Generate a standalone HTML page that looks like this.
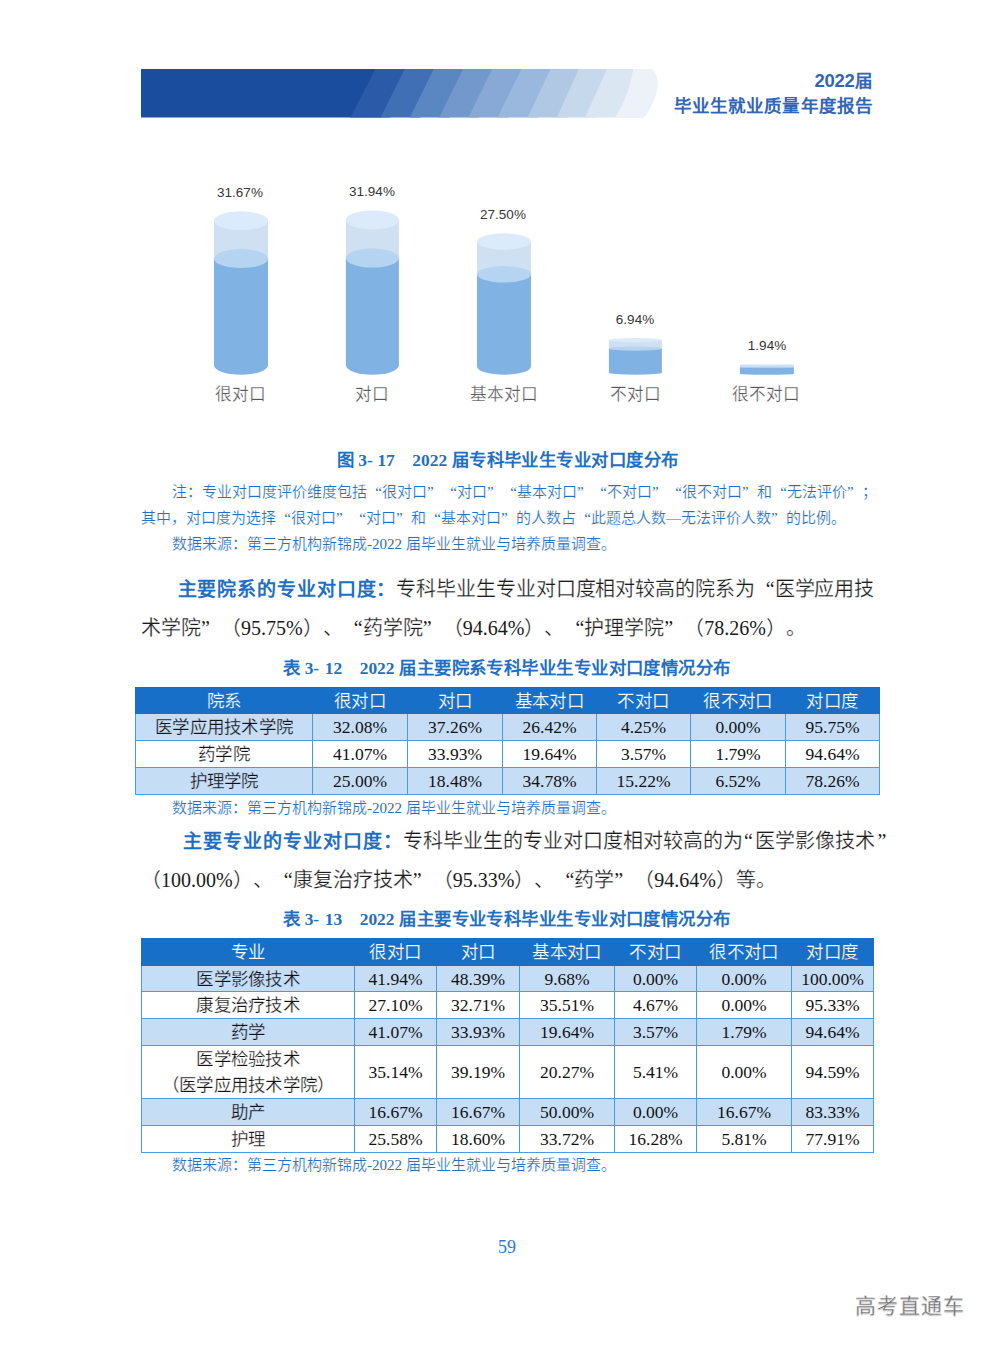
<!DOCTYPE html>
<html lang="zh-CN">
<head>
<meta charset="utf-8">
<title>2022届毕业生就业质量年度报告</title>
<style>
html,body{margin:0;padding:0;background:#fff;}
body{text-spacing-trim:space-all;font-kerning:none;width:992px;height:1346px;position:relative;overflow:hidden;font-family:"Liberation Serif",serif;color:#1a1a1a;}
.abs{position:absolute;white-space:nowrap;}
.sans{font-family:"Liberation Sans",sans-serif;}
i.ql,i.qr{font-style:normal;display:inline-block;width:1em;}
i.ql{text-align:right;}
i.qr{text-align:left;}
i.qh{font-style:normal;display:inline-block;width:.6em;text-align:center;}
.hdr{right:119px;text-align:right;color:#3265b7;font-weight:bold;font-size:17.5px;line-height:22px;}
.val{font-family:"Liberation Sans",sans-serif;font-size:13.5px;color:#363636;width:80px;text-align:center;line-height:16px;}
.cat{font-size:16.67px;color:#595959;width:100px;text-align:center;line-height:20px;font-weight:300;}
.cap{text-align:left;color:#1f70c4;font-weight:bold;font-size:17.4px;line-height:20px;}
.cap.cj{letter-spacing:.45px;}
.note{color:#1f70c4;font-size:15px;line-height:18px;font-weight:300;}
.para{font-size:20px;line-height:24px;color:#1a1a1a;font-weight:300;}
.para b{color:#1f70c4;font-weight:bold;font-size:19px;letter-spacing:.9px;}
table{position:absolute;border-collapse:collapse;table-layout:fixed;font-size:17.5px;}
td,th{border:1px solid #4a9ae6;text-align:center;padding:0;line-height:20px;font-weight:300;color:#111;overflow:hidden;white-space:nowrap;}
th{background:#186fc7;color:#fff;border-color:#186fc7;font-weight:normal;}
tr.alt td{background:#c6ddf6;}

.para,.note,.cat{-webkit-text-stroke:.25px #fff;}
.para b,.para u,.note u,.para i,.note i{-webkit-text-stroke:0;}
.note{-webkit-text-stroke:.18px #fff;}
u{text-decoration:none;}
td:first-child{-webkit-text-stroke:.25px #fff;letter-spacing:.25px;}
tr.alt td:first-child{-webkit-text-stroke:.25px #c6ddf6;}
th{-webkit-text-stroke:.2px #186fc7;letter-spacing:.35px;}
</style>
</head>
<body>

<!-- header banner -->
<svg class="abs" style="left:141px;top:69px" width="520" height="49" viewBox="0 0 520 49">
  <defs><clipPath id="bc"><path d="M0 0H510C515 3 517 10 516.5 16C516 25 511 38 503 48.4H0Z"/></clipPath></defs>
  <g clip-path="url(#bc)">
    <rect x="0" y="0" width="240" height="49" fill="#1b4d9f"/>
    <polygon points="234.4,0 274.4,0 249.2,49 209.2,49" fill="#2a5aa8"/>
    <polygon points="263.6,0 303.6,0 279.4,49 239.4,49" fill="#416fb5"/>
    <polygon points="292.8,0 332.8,0 308.6,49 268.6,49" fill="#5a86c2"/>
    <polygon points="322.1,0 362.1,0 337.9,49 297.9,49" fill="#7298cc"/>
    <polygon points="351.3,0 391.3,0 367.1,49 327.1,49" fill="#88a9d5"/>
    <polygon points="380.5,0 420.5,0 396.3,49 356.3,49" fill="#9ab8de"/>
    <polygon points="409.6,0 449.6,0 426.4,49 386.4,49" fill="#b0c8e4"/>
    <polygon points="437.8,0 477.8,0 455.6,49 415.6,49" fill="#c6d8ec"/>
    <polygon points="466.0,0 530,0 530,49 443.8,49" fill="#dbe6f3"/>
    <path d="M492.2 0H530V49H473.5C481 40 489 20 492.2 0Z" fill="#edf2f9"/>
  </g>
</svg>
<div class="abs sans hdr" style="top:69.5px;right:120.5px"><span style="font-size:18.5px;letter-spacing:-0.3px">2022</span>届</div>
<div class="abs sans hdr" style="top:94.5px;letter-spacing:1.15px;right:118.8px">毕业生就业质量年度报告</div>

<!-- chart -->
<svg class="abs" style="left:200px;top:200px" width="620" height="185" viewBox="200 200 620 185">
<rect x="214.0" y="220.7" width="54.0" height="37.9" fill="#cfe0f2"/>
<path d="M214.0 258.6V365.2A27.0 9.48 0 0 0 268.0 365.2V258.6Z" fill="#80b2e3"/>
<ellipse cx="241.0" cy="258.6" rx="27.0" ry="9.48" fill="#b4d4f1"/>
<ellipse cx="241.0" cy="220.7" rx="27.0" ry="9.48" fill="#dcebfb"/>
<rect x="345.9" y="220.0" width="53.0" height="38.1" fill="#cfe0f2"/>
<path d="M345.9 258.1V365.2A26.5 9.52 0 0 0 398.9 365.2V258.1Z" fill="#80b2e3"/>
<ellipse cx="372.4" cy="258.1" rx="26.5" ry="9.52" fill="#b4d4f1"/>
<ellipse cx="372.4" cy="220.0" rx="26.5" ry="9.52" fill="#dcebfb"/>
<rect x="477.0" y="241.5" width="54.0" height="32.8" fill="#cfe0f2"/>
<path d="M477.0 274.3V366.5A27.0 8.20 0 0 0 531.0 366.5V274.3Z" fill="#80b2e3"/>
<ellipse cx="504.0" cy="274.3" rx="27.0" ry="8.20" fill="#b4d4f1"/>
<ellipse cx="504.0" cy="241.5" rx="27.0" ry="8.20" fill="#dcebfb"/>
<rect x="608.9" y="340.1" width="53.0" height="8.5" fill="#cfe0f2"/>
<path d="M608.9 348.6V372.6A26.5 2.13 0 0 0 661.9 372.6V348.6Z" fill="#80b2e3"/>
<ellipse cx="635.4" cy="348.6" rx="26.5" ry="2.13" fill="#b4d4f1"/>
<ellipse cx="635.4" cy="340.1" rx="26.5" ry="2.13" fill="#dcebfb"/>
<rect x="739.9" y="364.8" width="54.0" height="2.4" fill="#cfe0f2"/>
<path d="M739.9 367.2V374.1A27.0 0.61 0 0 0 793.9 374.1V367.2Z" fill="#80b2e3"/>
<ellipse cx="766.9" cy="367.2" rx="27.0" ry="0.61" fill="#b4d4f1"/>
<ellipse cx="766.9" cy="364.8" rx="27.0" ry="0.61" fill="#dcebfb"/>
</svg>

<div class="abs val" style="left:200px;top:185px">31.67%</div>
<div class="abs val" style="left:332px;top:184px">31.94%</div>
<div class="abs val" style="left:463px;top:207px">27.50%</div>
<div class="abs val" style="left:595px;top:312px">6.94%</div>
<div class="abs val" style="left:727px;top:338px">1.94%</div>

<div class="abs cat" style="left:190px;top:385px">很对口</div>
<div class="abs cat" style="left:322px;top:385px">对口</div>
<div class="abs cat" style="left:453.5px;top:385px">基本对口</div>
<div class="abs cat" style="left:585px;top:385px">不对口</div>
<div class="abs cat" style="left:716px;top:385px">很不对口</div>

<div class="abs cap" style="left:337px;top:450px">图 3- </div><div class="abs cap" style="left:377.4px;top:450px">17</div><div class="abs cap" style="left:412.3px;top:450px">2022</div><div class="abs cap cj" style="left:451.7px;top:450px">届专科毕业生专业对口度分布</div>

<div class="abs note" style="left:172px;top:483px">注：专业对口度评价维度包括<i class="ql">“</i>很对口<i class="qr">”</i><i class="ql">“</i>对口<i class="qr">”</i><i class="ql">“</i>基本对口<i class="qr">”</i><i class="ql">“</i>不对口<i class="qr">”</i><i class="ql">“</i>很不对口<i class="qr">”</i>和<i class="ql">“</i>无法评价<i class="qr">”</i>；</div>
<div class="abs note" style="left:141px;top:509px">其中，对口度为选择<i class="ql">“</i>很对口<i class="qr">”</i><i class="ql">“</i>对口<i class="qr">”</i>和<i class="ql">“</i>基本对口<i class="qr">”</i>的人数占<i class="ql">“</i>此题总人数<u>—</u>无法评价人数<i class="qr">”</i>的比例。</div>
<div class="abs note" style="left:172px;top:535px">数据来源：第三方机构新锦成<u>-2022</u> 届毕业生就业与培养质量调查。</div>

<div class="abs para" style="left:177.5px;top:577px;letter-spacing:-0.1px"><b>主要院系的专业对口度：</b>专科毕业生专业对口度相对较高的院系为<i class="ql">“</i>医学应用技</div>
<div class="abs para" style="left:141px;top:616px">术学院<i class="qr">”</i>（<u>95.75%</u>）、<i class="ql">“</i>药学院<i class="qr">”</i>（<u>94.64%</u>）、<i class="ql">“</i>护理学院<i class="qr">”</i>（<u>78.26%</u>）。</div>

<div class="abs cap" style="left:283.3px;top:658px">表 3- </div><div class="abs cap" style="left:324.8px;top:658px">12</div><div class="abs cap" style="left:359.7px;top:658px">2022</div><div class="abs cap cj" style="left:399.2px;top:658px">届主要院系专科毕业生专业对口度情况分布</div>

<table style="left:135px;top:687px;width:744px">
<colgroup><col style="width:177px"><col style="width:95px"><col style="width:95px"><col style="width:94px"><col style="width:94px"><col style="width:95px"><col style="width:94px"></colgroup>
<tr style="height:26px"><th>院系</th><th>很对口</th><th>对口</th><th>基本对口</th><th>不对口</th><th>很不对口</th><th>对口度</th></tr>
<tr class="alt" style="height:27px"><td>医学应用技术学院</td><td>32.08%</td><td>37.26%</td><td>26.42%</td><td>4.25%</td><td>0.00%</td><td>95.75%</td></tr>
<tr style="height:27px"><td>药学院</td><td>41.07%</td><td>33.93%</td><td>19.64%</td><td>3.57%</td><td>1.79%</td><td>94.64%</td></tr>
<tr class="alt" style="height:27px"><td>护理学院</td><td>25.00%</td><td>18.48%</td><td>34.78%</td><td>15.22%</td><td>6.52%</td><td>78.26%</td></tr>
</table>

<div class="abs note" style="left:172px;top:799px">数据来源：第三方机构新锦成<u>-2022</u> 届毕业生就业与培养质量调查。</div>

<div class="abs para" style="left:182.5px;top:829px"><b style="letter-spacing:1px">主要专业的专业对口度：</b>专科毕业生的专业对口度相对较高的为<i class="qh">“</i>医学影像技术<i class="qr" style="margin-left:3px">”</i></div>
<div class="abs para" style="left:141px;top:868px">（<u>100.00%</u>）、<i class="ql">“</i>康复治疗技术<i class="qr">”</i>（<u>95.33%</u>）、<i class="ql">“</i>药学<i class="qr">”</i>（<u>94.64%</u>）等。</div>

<div class="abs cap" style="left:283.3px;top:909px">表 3- </div><div class="abs cap" style="left:324.8px;top:909px">13</div><div class="abs cap" style="left:359.7px;top:909px">2022</div><div class="abs cap cj" style="left:399.2px;top:909px">届主要专业专科毕业生专业对口度情况分布</div>

<table style="left:141px;top:938px;width:732px">
<colgroup><col style="width:213px"><col style="width:82px"><col style="width:83px"><col style="width:95px"><col style="width:82px"><col style="width:95px"><col style="width:82px"></colgroup>
<tr style="height:27px"><th>专业</th><th>很对口</th><th>对口</th><th>基本对口</th><th>不对口</th><th>很不对口</th><th>对口度</th></tr>
<tr class="alt" style="height:26px"><td>医学影像技术</td><td>41.94%</td><td>48.39%</td><td>9.68%</td><td>0.00%</td><td>0.00%</td><td>100.00%</td></tr>
<tr style="height:27px"><td>康复治疗技术</td><td>27.10%</td><td>32.71%</td><td>35.51%</td><td>4.67%</td><td>0.00%</td><td>95.33%</td></tr>
<tr class="alt" style="height:27px"><td>药学</td><td>41.07%</td><td>33.93%</td><td>19.64%</td><td>3.57%</td><td>1.79%</td><td>94.64%</td></tr>
<tr style="height:53px"><td style="line-height:26px">医学检验技术<br>（医学应用技术学院）</td><td>35.14%</td><td>39.19%</td><td>20.27%</td><td>5.41%</td><td>0.00%</td><td>94.59%</td></tr>
<tr class="alt" style="height:27px"><td>助产</td><td>16.67%</td><td>16.67%</td><td>50.00%</td><td>0.00%</td><td>16.67%</td><td>83.33%</td></tr>
<tr style="height:27px"><td>护理</td><td>25.58%</td><td>18.60%</td><td>33.72%</td><td>16.28%</td><td>5.81%</td><td>77.91%</td></tr>
</table>

<div class="abs note" style="left:172px;top:1156px">数据来源：第三方机构新锦成<u>-2022</u> 届毕业生就业与培养质量调查。</div>

<div class="abs" style="left:457px;width:100px;text-align:center;top:1236.5px;font-size:18px;line-height:20px;color:#2b78d0">59</div>

<div class="abs sans" style="left:854.5px;top:1293px;font-size:21px;letter-spacing:1px;line-height:26px;color:#6a6a6a;-webkit-text-stroke:.3px #fff;text-shadow:0 1.2px 1px rgba(0,0,0,.28)">高考直通车</div>

</body>
</html>
